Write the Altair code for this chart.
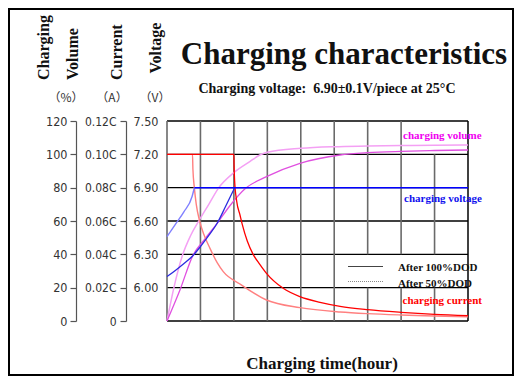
import altair as alt
import pandas as pd

# ---------------- data ----------------
hour_ticks = [0, 4, 8, 12, 16, 20, 24, 28, 32, 36]
volume_ticks = [0, 20, 40, 60, 80, 100, 120]
current_ticks = [0, 0.02, 0.04, 0.06, 0.08, 0.10, 0.12]
voltage_ticks = [6.00, 6.30, 6.60, 6.90, 7.20, 7.50]

# charging volume (%)
vol100_t = [0, 1.55, 3.1, 4.5, 6.0, 7.5, 9.4, 11.9, 15.9, 20.7, 24, 28, 32, 36]
vol100_v = [0, 18.6, 39.4, 49, 58.6, 69, 79.6, 86.6, 94.6, 99.6, 101, 101.8, 102.3, 102.6]
vol50_t = [0, 0.8, 1.85, 2.8, 3.8, 5.0, 6.14, 8.0, 9.9, 11.1, 12, 16, 20, 24, 28, 32, 36]
vol50_v = [0, 19.4, 39.4, 51, 60, 70, 79.6, 89, 95.6, 99.6, 101.2, 103.6, 104.6, 105, 105.3, 105.5, 105.6]

# charging current (C)
cur100_t = [0, 8.0, 8.02, 8.09, 8.33, 8.73, 9.0, 9.6, 10.3, 11.1, 11.9, 13.9, 15.9, 18.3, 20.7, 24, 28, 32, 36]
cur100_v = [0.10, 0.10, 0.094, 0.084, 0.072, 0.0636, 0.058, 0.048, 0.040, 0.034, 0.0286, 0.0196, 0.0146,
            0.0112, 0.0088, 0.0068, 0.0052, 0.0040, 0.0032]
cur50_t = [0, 3.05, 3.1, 3.27, 3.5, 3.9, 4.4, 5.14, 6.0, 6.73, 8.73, 11.9, 15.9, 20.7, 24, 28, 32, 36]
cur50_v = [0.10, 0.10, 0.091, 0.080, 0.070, 0.060, 0.052, 0.0436, 0.035, 0.0296, 0.0222, 0.0126, 0.0080,
           0.0054, 0.0044, 0.0036, 0.0030, 0.0025]

# charging voltage (V)
volt100_t = [0, 1, 2, 3, 4, 5, 6, 7, 8.1]
volt100_v = [6.10, 6.155, 6.215, 6.28, 6.37, 6.47, 6.58, 6.73, 6.90]
volt50_t = [0, 1, 2, 3, 3.27]
volt50_v = [6.46, 6.57, 6.68, 6.82, 6.90]
volt_const_t = [3.27, 36]
volt_const_v = [6.90, 6.90]

# grid
grid_h_v = [5.7, 6.0, 6.3, 6.6, 6.9, 7.2, 7.5]
grid_v_t = [0, 4, 8, 12, 16, 20, 24, 24, 28, 28, 32, 32]
grid_v_lo = [5.7, 5.7, 5.7, 5.7, 5.7, 5.7, 5.7, 6.3, 5.7, 6.3, 5.7, 6.3]
grid_v_hi = [7.5, 7.5, 7.5, 7.5, 7.5, 7.5, 6.0, 7.5, 6.0, 7.5, 6.0, 7.2]

# ---------------- styling ----------------
W, H = 301, 200
LBL_FONT = "Liberation Sans Narrow, DejaVu Sans Condensed, Liberation Sans, sans-serif"
SERIF = "Liberation Serif, Times New Roman, serif"
CJK = "Noto Sans CJK SC"

xs = alt.Scale(domain=[0, 36], nice=False, zero=False)
vol_scale = alt.Scale(domain=[0, 120], nice=False, zero=False)
cur_scale = alt.Scale(domain=[0, 0.12], nice=False, zero=False)
volt_scale = alt.Scale(domain=[5.7, 7.5], nice=False, zero=False)

dummy = pd.DataFrame({"k": [0]})

x_axis = alt.Axis(values=hour_ticks, title=None, grid=False, ticks=False, domain=False,
                  labelPadding=7, labelFlush=False, labelOverlap=False,
                  labelFont=LBL_FONT, labelFontSize=12, labelColor="#333")
vol_axis = alt.Axis(orient="left", offset=91, values=volume_ticks, title=None, grid=False,
                    ticks=True, tickSize=6, tickColor="#555", tickWidth=1.2,
                    domain=True, domainColor="#555", domainWidth=1.2,
                    labelFont=LBL_FONT, labelFontSize=12.5, labelColor="#333", labelPadding=3,
                    labelOverlap=False)
cur_axis = alt.Axis(orient="left", offset=41, values=current_ticks, title=None, grid=False,
                    ticks=True, tickSize=6, tickColor="#555", tickWidth=1.2,
                    domain=True, domainColor="#555", domainWidth=1.2,
                    labelExpr="datum.value == 0 ? '0' : format(datum.value, '.2f') + 'C'",
                    labelFont=LBL_FONT, labelFontSize=12, labelColor="#333", labelPadding=4,
                    labelOverlap=False)
volt_axis = alt.Axis(orient="left", offset=0, values=voltage_ticks, format=".2f", title=None,
                     grid=False, ticks=False, domain=False,
                     labelFont=LBL_FONT, labelFontSize=12.5, labelColor="#333", labelPadding=9,
                     labelOverlap=False)


def curve(t, v, yscale, color, width=1.3, yaxis=None, xaxis=None):
    return alt.Chart(pd.DataFrame({"t": t, "v": v})).mark_line(
        color=color, strokeWidth=width, interpolate="monotone"
    ).encode(
        x=alt.X("t:Q", scale=xs, axis=xaxis),
        y=alt.Y("v:Q", scale=yscale, axis=yaxis),
    )


def txt(text, x, y, size, color="#111", font=SERIF, weight="bold", align="left",
        baseline="alphabetic", angle=0):
    return alt.Chart(dummy).mark_text(
        fontSize=size, color=color, font=font, fontWeight=weight, align=align,
        baseline=baseline, angle=angle
    ).encode(x=alt.value(x), y=alt.value(y), text=alt.value(text))


# frame around whole picture
border = alt.Chart(dummy).mark_rect(fillOpacity=0, stroke="#000", strokeWidth=2).encode(
    x=alt.value(-158), x2=alt.value(346), y=alt.value(-112), y2=alt.value(254)
)

# grid
hgrid = alt.Chart(pd.DataFrame({"v": grid_h_v, "t0": [0] * len(grid_h_v), "t1": [36] * len(grid_h_v)})).mark_rule(
    color="#000", strokeWidth=1.4
).encode(
    x=alt.X("t0:Q", scale=xs, axis=None), x2="t1:Q",
    y=alt.Y("v:Q", scale=volt_scale, axis=None),
)
vgrid = alt.Chart(pd.DataFrame({"t": grid_v_t, "lo": grid_v_lo, "hi": grid_v_hi})).mark_rule(
    color="#6a6a6a", strokeWidth=1.6
).encode(
    x=alt.X("t:Q", scale=xs, axis=None),
    y=alt.Y("lo:Q", scale=volt_scale, axis=None), y2="hi:Q",
)
right_edge = alt.Chart(pd.DataFrame({"t": [36], "lo": [5.7], "hi": [7.5]})).mark_rule(
    color="#000", strokeWidth=1.5
).encode(
    x=alt.X("t:Q", scale=xs, axis=None),
    y=alt.Y("lo:Q", scale=volt_scale, axis=None), y2="hi:Q",
)

# curves
c_vol50 = curve(vol50_t, vol50_v, vol_scale, "#f4a0f4", 1.5)
c_vol100 = curve(vol100_t, vol100_v, vol_scale, "#e050e0", 1.3, yaxis=vol_axis, xaxis=x_axis)
c_cur50 = curve(cur50_t, cur50_v, cur_scale, "#ff8080", 1.4)
c_cur100 = curve(cur100_t, cur100_v, cur_scale, "#ff0000", 1.3, yaxis=cur_axis)
c_volt50 = curve(volt50_t, volt50_v, volt_scale, "#8080ff", 1.4)
c_volt100 = curve(volt100_t, volt100_v, volt_scale, "#2a2ae0", 1.3, yaxis=volt_axis)
c_const = curve(volt_const_t, volt_const_v, volt_scale, "#0000ff", 1.5)

# legend
leg_solid = alt.Chart(dummy).mark_rule(color="#444", strokeWidth=1).encode(
    x=alt.value(181), x2=alt.value(216), y=alt.value(145.5))
leg_dot = alt.Chart(dummy).mark_rule(color="#888", strokeWidth=1, strokeDash=[1, 1]).encode(
    x=alt.value(181), x2=alt.value(216), y=alt.value(160.5))

texts = [
    txt("Charging characteristics", 177, -57, 31, align="center"),
    txt("Charging voltage:\u00a0\u00a06.90\u00b10.1V/piece at 25\u00b0C", 160, -28, 14, align="center"),
    txt("Charging", -118, -41, 16, angle=270),
    txt("Volume", -89, -41, 16, angle=270),
    txt("Current", -45.5, -41, 16, angle=270),
    txt("Voltage", -6, -47.5, 16, angle=270),
    txt("\uff08%\uff09", -101, -23, 12, color="#333", font=CJK, weight="normal", align="center", baseline="middle"),
    txt("\uff08A\uff09", -55, -23, 12, color="#333", font=CJK, weight="normal", align="center", baseline="middle"),
    txt("\uff08V\uff09", -12, -23, 12, color="#333", font=CJK, weight="normal", align="center", baseline="middle"),
    txt("Charging time(hour)", 155, 248, 17, align="center"),
    txt("After 100%DOD", 231, 150, 11),
    txt("After 50%DOD", 231, 165.5, 11),
    txt("charging volume", 236, 18, 11, color="#f000f0"),
    txt("charging voltage", 237, 80.5, 11, color="#1010ee"),
    txt("charging current", 235.5, 183, 11, color="#ff0000"),
]

chart = alt.layer(
    border, hgrid, vgrid, right_edge,
    c_vol50, c_vol100, c_cur50, c_cur100, c_volt50, c_volt100, c_const,
    leg_solid, leg_dot, *texts,
).resolve_scale(y="independent").properties(
    width=W, height=H,
    autosize=alt.AutoSizeParams(type="none"),
    padding={"left": 159, "top": 113, "right": 46, "bottom": 55},
    background="white",
).configure_view(stroke=None)

chart.save("out.html", embed_options={"renderer": "svg", "actions": False})
